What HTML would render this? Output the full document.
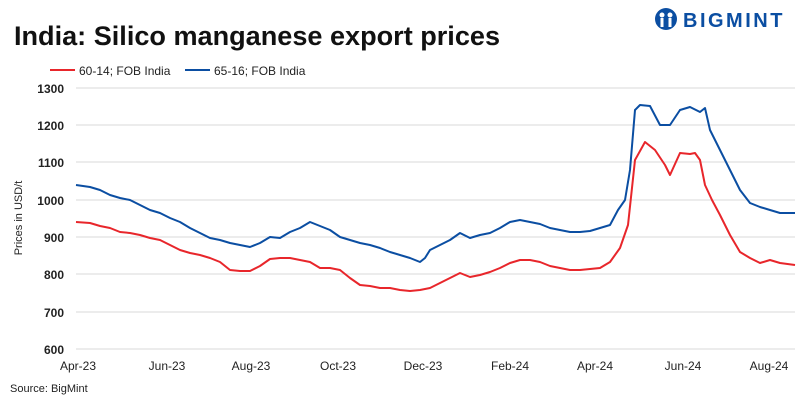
<!DOCTYPE html>
<html><head><meta charset="utf-8"><style>
body{margin:0;background:#fff;width:810px;height:405px;overflow:hidden;font-family:"Liberation Sans",sans-serif}
</style></head><body>
<svg width="810" height="405" xmlns="http://www.w3.org/2000/svg" font-family="Liberation Sans, sans-serif">
<text x="14" y="45" font-size="27" font-weight="bold" fill="#111" textLength="486" lengthAdjust="spacingAndGlyphs">India: Silico manganese export prices</text>
<g transform="translate(655,7)">
<circle cx="11" cy="12" r="11" fill="#0b4ea2"/>
<circle cx="7" cy="8" r="2.5" fill="#fff"/><circle cx="15" cy="8" r="2.5" fill="#fff"/>
<rect x="5.5" y="11" width="3" height="9" fill="#fff"/><rect x="13.5" y="11" width="3" height="9" fill="#fff"/>
<text x="28" y="20" font-size="20" font-weight="bold" fill="#0b4ea2" letter-spacing="2.5">BIGMINT</text>
</g>
<line x1="50" y1="70" x2="75" y2="70" stroke="#e8262b" stroke-width="2"/>
<text x="79" y="75" font-size="12" fill="#222">60-14; FOB India</text>
<line x1="185" y1="70" x2="210" y2="70" stroke="#0b4ea2" stroke-width="2"/>
<text x="214" y="75" font-size="12" fill="#222">65-16; FOB India</text>
<g stroke="#d9d9d9" stroke-width="1">
<line x1="76" y1="88" x2="795" y2="88"/><line x1="76" y1="125" x2="795" y2="125"/><line x1="76" y1="162" x2="795" y2="162"/><line x1="76" y1="200" x2="795" y2="200"/><line x1="76" y1="237" x2="795" y2="237"/><line x1="76" y1="274" x2="795" y2="274"/><line x1="76" y1="312" x2="795" y2="312"/><line x1="76" y1="349" x2="795" y2="349"/>
</g>
<g font-size="12" font-weight="bold" fill="#222" text-anchor="end">
<text x="64" y="93">1300</text><text x="64" y="130">1200</text><text x="64" y="167">1100</text><text x="64" y="205">1000</text><text x="64" y="242">900</text><text x="64" y="279">800</text><text x="64" y="317">700</text><text x="64" y="354">600</text>
</g>
<text transform="translate(22,218) rotate(-90)" font-size="11" fill="#222" text-anchor="middle">Prices in USD/t</text>
<g font-size="12" fill="#222" text-anchor="middle">
<text x="78" y="370">Apr-23</text><text x="167" y="370">Jun-23</text><text x="251" y="370">Aug-23</text><text x="338" y="370">Oct-23</text><text x="423" y="370">Dec-23</text><text x="510" y="370">Feb-24</text><text x="595" y="370">Apr-24</text><text x="683" y="370">Jun-24</text><text x="769" y="370">Aug-24</text>
</g>
<text x="10" y="392" font-size="11" fill="#222">Source: BigMint</text>
<polyline fill="none" stroke="#0b4ea2" stroke-width="2" stroke-linejoin="round" points="76,185 90,187 100,190 110,195 120,198 130,200 140,205 150,210 160,213 170,218 180,222 190,228 200,233 210,238 220,240 230,243 240,245 250,247 260,243 270,237 280,238 290,232 300,228 310,222 320,226 330,230 340,237 350,240 360,243 370,245 380,248 390,252 400,255 410,258 420,262 425,258 430,250 440,245 450,240 460,233 470,238 480,235 490,233 500,228 510,222 520,220 530,222 540,224 550,228 560,230 570,232 580,232 590,231 600,228 610,225 618,210 625,200 630,170 635,110 640,105 650,106 660,125 670,125 680,110 690,107 700,112 705,108 710,130 720,150 730,170 740,190 750,203 760,207 770,210 780,213 795,213"/>
<polyline fill="none" stroke="#e8262b" stroke-width="2" stroke-linejoin="round" points="76,222 90,223 100,226 110,228 120,232 130,233 140,235 150,238 160,240 170,245 180,250 190,253 200,255 210,258 220,262 230,270 240,271 250,271 260,266 270,259 280,258 290,258 300,260 310,262 320,268 330,268 340,270 350,278 360,285 370,286 380,288 390,288 400,290 410,291 420,290 430,288 440,283 450,278 460,273 470,277 480,275 490,272 500,268 510,263 520,260 530,260 540,262 550,266 560,268 570,270 580,270 590,269 600,268 610,262 620,248 628,225 635,160 645,142 655,150 665,165 670,175 680,153 690,154 695,153 700,160 705,185 712,200 720,215 730,235 740,252 750,258 760,263 770,260 780,263 795,265"/>
</svg>
</body></html>
